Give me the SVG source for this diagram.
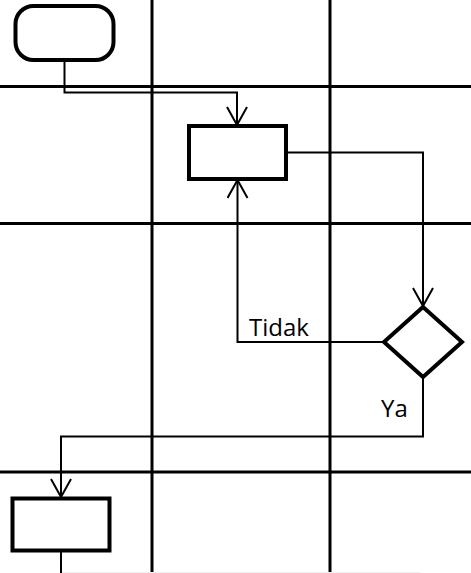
<svg xmlns="http://www.w3.org/2000/svg" width="471" height="573" viewBox="0 0 471 573">
<style>
.grid{stroke:#000;stroke-width:3;fill:none}
.node{fill:#fff;stroke:#000;stroke-width:4}
.conn{fill:none;stroke:#000;stroke-width:2}
.lbl{font-family:"Open Sans","DejaVu Sans",sans-serif;font-size:24px;fill:#000}
</style>
<defs>
<marker id="arr" viewBox="0 0 20 22" refX="19" refY="11" markerWidth="20" markerHeight="22" markerUnits="userSpaceOnUse" orient="auto">
<path d="M1,1 L19,11 L1,21" fill="none" stroke="#000" stroke-width="2"/>
</marker>
</defs>
<rect width="471" height="573" fill="#fff"/>
<g id="grid">
<line class="grid" x1="152" y1="0" x2="152" y2="573"/>
<line class="grid" x1="330" y1="0" x2="330" y2="573"/>
<line class="grid" x1="0" y1="86.5" x2="471" y2="86.5"/>
<line class="grid" x1="0" y1="223.5" x2="471" y2="223.5"/>
<line class="grid" x1="0" y1="472" x2="471" y2="472"/>
<line x1="62" y1="572.5" x2="420" y2="572.5" stroke="#eee" stroke-width="1"/>
</g>
<g id="connectors">
<path class="conn" d="M64.5,60 V92.5 H237 V125" marker-end="url(#arr)"/>
<path class="conn" d="M286,152.5 H423 V306" marker-end="url(#arr)"/>
<path class="conn" d="M384,342 H237.5 V180" marker-end="url(#arr)"/>
<path class="conn" d="M423,377 V436.5 H61 V497" marker-end="url(#arr)"/>
<path class="conn" d="M61,550 V573"/>
<text class="lbl" x="249" y="336">Tidak</text>
<text class="lbl" x="381" y="417">Ya</text>
</g>
<g id="start"><rect class="node" x="15.5" y="6" width="98" height="54" rx="18" ry="18"/></g>
<g id="process1"><rect class="node" x="189" y="126" width="97" height="53"/></g>
<g id="decision"><polygon class="node" points="423,307 462,342 423,377 384,342"/></g>
<g id="process2"><rect class="node" x="12.5" y="498.5" width="97" height="52"/></g>
</svg>
